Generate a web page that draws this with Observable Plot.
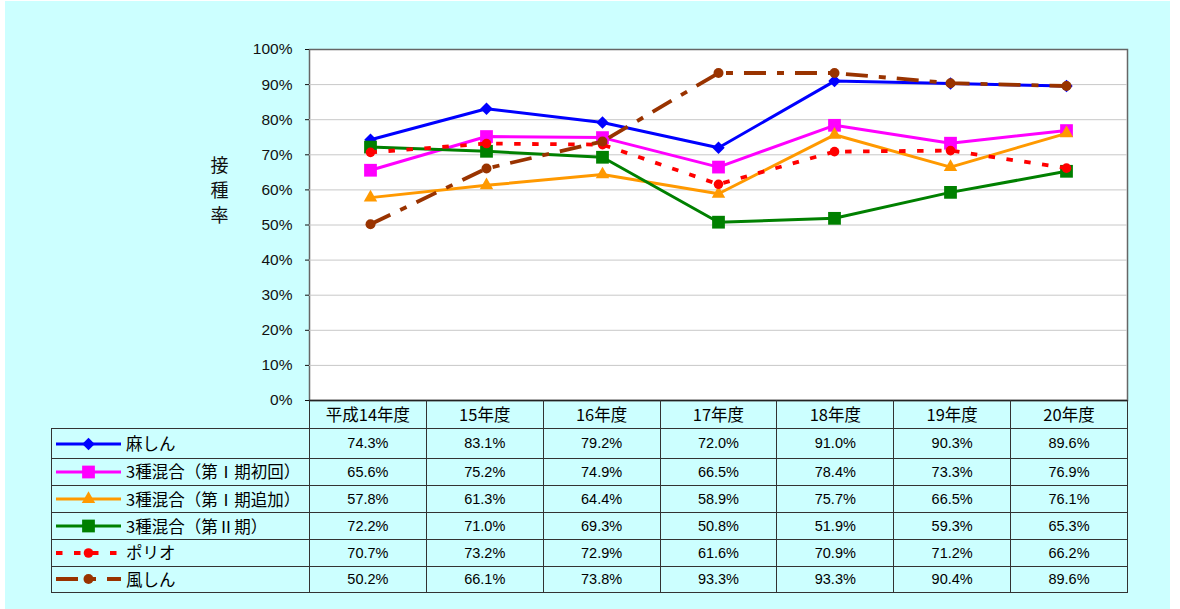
<!DOCTYPE html>
<html>
<head>
<meta charset="utf-8">
<script src="https://cdn.jsdelivr.net/npm/d3@7"></script>
<script src="https://cdn.jsdelivr.net/npm/@observablehq/plot@0.6"></script>
<style>
  html, body { margin: 0; padding: 0; background: #ffffff; }
  #wrap { position: relative; width: 1180px; height: 609px; overflow: hidden; }
  #bg { position: absolute; left: 5px; top: 1px; width: 1165px; height: 608px; background: #CCFFFF; }
  #chart { position: absolute; left: 0; top: 0; }
  #tbl { position: absolute; left: 51px; top: 400px; width: 1076px; border-collapse: collapse; table-layout: fixed;
         font-family: "Liberation Sans", "Noto Sans CJK JP", sans-serif; color: #000; }
  #tbl td, #tbl th { border: 1px solid #333; padding: 0; text-align: center; vertical-align: middle; font-weight: normal;
         line-height: 1; box-sizing: border-box; }
  #tbl th { font-family: "Noto Sans CJK JP", sans-serif; font-size: 16.5px; height: 28px; border-top: 1.5px solid #222; }
  #tbl th.blank { border-top: none; border-left: none; }
  #tbl td { font-size: 14.5px; }
  #tbl td.leg { text-align: left; font-family: "Noto Sans CJK JP", sans-serif; font-size: 16.5px; white-space: nowrap; }
  #tbl td.leg svg { vertical-align: middle; margin-left: 3px; margin-right: 4px; }
  #tbl td.leg span { vertical-align: middle; }
</style>
</head>
<body>
<div id="wrap">
  <div id="bg"></div>
  <div id="chart"></div>
  <table id="tbl"></table>
</div>
<script>
// ---- data ----
const years = ["平成14年度", "15年度", "16年度", "17年度", "18年度", "19年度", "20年度"];
const seriesNames = ["麻しん", "3種混合（第Ⅰ期初回）", "3種混合（第Ⅰ期追加）", "3種混合（第Ⅱ期）", "ポリオ", "風しん"];
const measles   = [74.3, 83.1, 79.2, 72.0, 91.0, 90.3, 89.6];
const dptFirst  = [65.6, 75.2, 74.9, 66.5, 78.4, 73.3, 76.9];
const dptBoost  = [57.8, 61.3, 64.4, 58.9, 75.7, 66.5, 76.1];
const dptSecond = [72.2, 71.0, 69.3, 50.8, 51.9, 59.3, 65.3];
const polio     = [70.7, 73.2, 72.9, 61.6, 70.9, 71.2, 66.2];
const rubella   = [50.2, 66.1, 73.8, 93.3, 93.3, 90.4, 89.6];
const yTicks = [0, 10, 20, 30, 40, 50, 60, 70, 80, 90, 100];

// ---- styles ----
const seriesValues = [measles, dptFirst, dptBoost, dptSecond, polio, rubella];
const colors  = ["#0000FF", "#FF00FF", "#FF9900", "#008000", "#FF0000", "#993300"];
const symbols = ["diamond2", "square", "triangle", "square", "circle", "circle"];
const radii   = [5.6, 7.2, 5.0, 7.2, 4.8, 5.0];
const widths  = [3, 3, 3, 3, 3.8, 3.8];
const dashes  = [null, null, null, null, "6.5,11.5", "22,11,7,11"];

const rows = seriesNames.flatMap((name, s) =>
  years.map((year, i) => ({series: name, s, year, value: seriesValues[s][i]})));

const marks = [
  Plot.frame({fill: "white", stroke: "#666", strokeWidth: 1.5}),
  Plot.gridY(yTicks.filter(d => d > 0 && d < 100), {stroke: "#c8c8c8", strokeOpacity: 1}),
  Plot.axisY({ticks: yTicks, tickFormat: d => d + "%", tickSize: 4, tickPadding: 13, fontSize: 15.5, label: null}),
  Plot.text(["接\n種\n率"], {frameAnchor: "left", dx: -90, dy: -36.5, fontSize: 18, lineHeight: 1.39, textAnchor: "middle",
    fontFamily: "Noto Sans CJK JP"}),
];
seriesNames.forEach((name, s) => {
  const d = rows.filter(r => r.s === s);
  marks.push(Plot.line(d, {x: "year", y: "value", stroke: colors[s], strokeWidth: widths[s],
    strokeDasharray: dashes[s] || undefined, strokeLinecap: "butt", strokeLinejoin: "round"}));
  marks.push(Plot.dot(d, {x: "year", y: "value", symbol: () => symbols[s], fill: colors[s], r: radii[s], stroke: "none"}));
});
marks.push(Plot.ruleY([0], {stroke: "#222", strokeWidth: 1.5}));

const chart = Plot.plot({
  width: 1180,
  height: 420,
  marginLeft: 309,
  marginRight: 53,
  marginTop: 49,
  marginBottom: 20,
  x: {type: "point", domain: years, padding: 0.5, axis: null},
  y: {domain: [0, 100], axis: null},
  symbol: {type: "identity"},
  style: {background: "transparent", fontFamily: "'Liberation Sans', 'Noto Sans CJK JP', sans-serif", fontSize: "15.5px", color: "#111"},
  marks
});
document.getElementById("chart").appendChild(chart);

// ---- data table with legend keys ----
const tbl = d3.select("#tbl");
const cg = tbl.append("colgroup");
cg.append("col").style("width", "258px");
years.forEach(() => cg.append("col").style("width", ((1076 - 258) / 7) + "px"));
const head = tbl.append("tr").style("height", "28px");
head.append("th").attr("class", "blank");
years.forEach(y => head.append("th").text(y));
const rowHeights = [29.5, 27.5, 27, 27, 26.5, 26];
seriesNames.forEach((name, s) => {
  const tr = tbl.append("tr").style("height", rowHeights[s] + "px");
  const td = tr.append("td").attr("class", "leg").style("height", rowHeights[s] + "px");
  const svg = td.append("svg").attr("width", 67).attr("height", 20);
  svg.append("line").attr("x1", 1).attr("x2", 66).attr("y1", 10).attr("y2", 10)
    .attr("stroke", colors[s]).attr("stroke-width", widths[s]).attr("stroke-linecap", "butt")
    .attr("stroke-dasharray", dashes[s]);
  const sym = {diamond2: d3.symbolDiamond2, square: d3.symbolSquare, triangle: d3.symbolTriangle, circle: d3.symbolCircle}[symbols[s]];
  svg.append("path").attr("transform", "translate(33.5,10)")
    .attr("d", d3.symbol(sym, Math.PI * radii[s] * radii[s])()).attr("fill", colors[s]);
  td.append("span").text(name);
  seriesValues[s].forEach(v => tr.append("td").text(v.toFixed(1) + "%"));
});
</script>
</body>
</html>
